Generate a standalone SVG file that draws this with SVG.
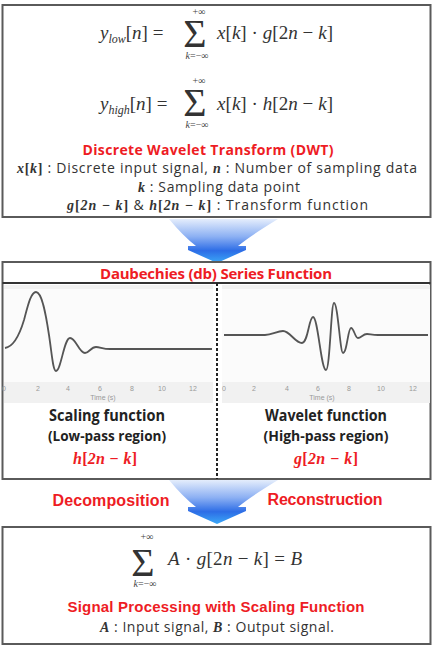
<svg xmlns="http://www.w3.org/2000/svg" width="434" height="649" viewBox="0 0 434 649">
<style>
.box{fill:#fff;stroke:#5a5a5a;stroke-width:2}
.m{font-family:"Liberation Serif","DejaVu Serif",serif;font-size:19px;fill:#333}
.i{font-style:italic}
.sm{font-family:"Liberation Serif","DejaVu Serif",serif;font-size:10px;fill:#444}
.sig{font-family:"Liberation Serif","DejaVu Serif",serif;font-size:40px;fill:#333}
.red{font-family:"Open Sans","Noto Sans",sans-serif;font-weight:bold;fill:#ee1c24}
.redA{font-family:"Liberation Sans",Arial,sans-serif;font-weight:bold;fill:#ee1c24}
.t{font-family:"Open Sans","Noto Sans",sans-serif;font-size:14px;fill:#333}
.mb{font-family:"Liberation Serif","DejaVu Serif",serif;font-weight:bold;font-style:italic}
.up{font-style:normal}
.lab{font-family:"Open Sans","Noto Sans",sans-serif;font-weight:bold;fill:#222}
.tick{font-family:"Liberation Sans",Arial,sans-serif;font-size:7px;fill:#999;text-anchor:middle}
.curve{fill:none;stroke:#555;stroke-width:1.8;stroke-linejoin:round}
.mid{text-anchor:middle}
</style>
<defs>
<linearGradient id="ag" x1="0" y1="0" x2="0" y2="1">
<stop offset="0" stop-color="#e4edfc"/>
<stop offset="0.4" stop-color="#8cb0f3"/>
<stop offset="0.72" stop-color="#2d6de6"/>
<stop offset="1" stop-color="#3ba8f7"/>
</linearGradient>
<path id="arrowShape" d="M169,219 L278,219 Q250,236 238,246 L246,246 L246,250 L217,263 L188,250 L188,246 L196,246 Q183,236 169,219 Z"/>
</defs>
<rect width="434" height="649" fill="#fff"/>

<g id="connectors">
<use href="#arrowShape" fill="url(#ag)"/>
<use href="#arrowShape" fill="url(#ag)" transform="translate(0,261)"/>
<text class="redA mid" x="111" y="506" font-size="16" textLength="117">Decomposition</text>
<text class="redA mid" x="325" y="505" font-size="16" textLength="115">Reconstruction</text>
</g>

<g id="node-dwt">
<rect class="box" x="2.5" y="5" width="428" height="212"/>
<text class="m" x="100" y="39"><tspan class="i">y</tspan><tspan class="i" font-size="12" dy="4">low</tspan><tspan dy="-4">[</tspan><tspan class="i">n</tspan>] =</text>
<text class="sig mid" x="195" y="47">Σ</text>
<text class="sm mid" x="199" y="15">+∞</text>
<text class="sm mid" x="197" y="59"><tspan class="i">k</tspan>=−∞</text>
<text class="m" x="217" y="39" textLength="116"><tspan class="i">x</tspan>[<tspan class="i">k</tspan>] · <tspan class="i">g</tspan>[2<tspan class="i">n</tspan> − <tspan class="i">k</tspan>]</text>
<text class="m" x="100" y="110"><tspan class="i">y</tspan><tspan class="i" font-size="12" dy="4">high</tspan><tspan dy="-4">[</tspan><tspan class="i">n</tspan>] =</text>
<text class="sig mid" x="195" y="116">Σ</text>
<text class="sm mid" x="199" y="84">+∞</text>
<text class="sm mid" x="197" y="128"><tspan class="i">k</tspan>=−∞</text>
<text class="m" x="217" y="110" textLength="116"><tspan class="i">x</tspan>[<tspan class="i">k</tspan>] · <tspan class="i">h</tspan>[2<tspan class="i">n</tspan> − <tspan class="i">k</tspan>]</text>
<text class="red mid" x="208" y="155" font-size="14" textLength="251">Discrete Wavelet Transform (DWT)</text>
<text class="t" x="17" y="173" textLength="400"><tspan class="mb">x<tspan class="up">[</tspan>k<tspan class="up">]</tspan></tspan> : Discrete input signal,  <tspan class="mb">n</tspan> : Number of sampling data</text>
<text class="t" x="138" y="192" textLength="162"><tspan class="mb">k</tspan> : Sampling data point</text>
<text class="t" x="67" y="210" textLength="301"><tspan class="mb">g<tspan class="up">[</tspan>2n − k<tspan class="up">]</tspan></tspan> &amp; <tspan class="mb">h<tspan class="up">[</tspan>2n − k<tspan class="up">]</tspan></tspan> : Transform function</text>
</g>

<g id="node-daubechies">
<rect class="box" x="2.5" y="262" width="428" height="217"/>
<line x1="2.5" y1="283" x2="430.5" y2="283" stroke="#333" stroke-width="2"/>
<text class="red mid" x="216" y="279" font-size="15" textLength="232">Daubechies (db) Series Function</text>
<line x1="217" y1="283" x2="217" y2="479" stroke="#222" stroke-width="2" stroke-dasharray="3,2"/>
<g id="plot-scaling">
<rect x="4" y="285" width="209" height="118" fill="#f1f1f1"/>
<rect x="4" y="289" width="209" height="93" fill="#fbfbfb"/>
<path class="curve" d="M5,348 C12,347 18,340 24,320 C28,305 31,292 36,292 C42,292 46,315 49,335 C52,355 53,371 56,371 C61,371 64,338 70,338 C76,338 79,353 85,353 C89,353 91,347 96,347 C100,347 103,349 110,349 L212,349"/>
<text class="tick" x="4" y="391">0</text><text class="tick" x="38" y="391">2</text><text class="tick" x="68" y="391">4</text><text class="tick" x="100" y="391">6</text><text class="tick" x="132" y="391">8</text><text class="tick" x="162" y="391">10</text><text class="tick" x="193" y="391">12</text>
<text class="tick" x="103" y="400" fill="#777">Time (s)</text>
</g>
<g id="plot-wavelet">
<rect x="222" y="285" width="208" height="118" fill="#f1f1f1"/>
<rect x="222" y="289" width="208" height="93" fill="#fbfbfb"/>
<path class="curve" d="M224,335 L265,335 C272,335 277,331 283,331 C290,331 295,343 302,343 C308,343 309,317 313,317 C318,317 321,370 326,370 C330,370 331,303 334,303 C338,303 340,353 343,353 C347,353 348,328 351,328 C354,328 355,338 358,338 C361,338 363,334 367,334 C370,334 372,335 378,335 L428,335"/>
<text class="tick" x="224" y="391">0</text><text class="tick" x="254" y="391">2</text><text class="tick" x="287" y="391">4</text><text class="tick" x="318" y="391">6</text><text class="tick" x="349" y="391">8</text><text class="tick" x="381" y="391">10</text><text class="tick" x="413" y="391">12</text>
<text class="tick" x="322" y="400" fill="#777">Time (s)</text>
</g>
<text class="lab mid" x="107" y="421" font-size="16" textLength="116" lengthAdjust="spacingAndGlyphs">Scaling function</text>
<text class="lab mid" x="107" y="441" font-size="14" textLength="118" lengthAdjust="spacingAndGlyphs">(Low-pass region)</text>
<text class="lab mid" x="326" y="421" font-size="16" textLength="122" lengthAdjust="spacingAndGlyphs">Wavelet function</text>
<text class="lab mid" x="326" y="441" font-size="14" textLength="125" lengthAdjust="spacingAndGlyphs">(High-pass region)</text>
<text class="mb mid" x="105" y="464" font-size="16" fill="#ee1c24" textLength="64">h<tspan class="up">[</tspan>2n − k<tspan class="up">]</tspan></text>
<text class="mb mid" x="326" y="464" font-size="16" fill="#ee1c24" textLength="64">g<tspan class="up">[</tspan>2n − k<tspan class="up">]</tspan></text>
</g>

<g id="node-signal">
<rect class="box" x="2.5" y="527" width="428" height="117"/>
<text class="sig mid" x="143" y="576">Σ</text>
<text class="sm mid" x="147" y="540">+∞</text>
<text class="sm mid" x="145" y="587"><tspan class="i">k</tspan>=−∞</text>
<text class="m" x="168" y="565" textLength="134"><tspan class="i">A</tspan>  · <tspan class="i">g</tspan>[2<tspan class="i">n</tspan> − <tspan class="i">k</tspan>] = <tspan class="i">B</tspan></text>
<text class="redA mid" x="216" y="612" font-size="15" textLength="297">Signal Processing with Scaling Function</text>
<text class="t mid" x="217" y="632" textLength="234"><tspan class="mb">A</tspan> : Input signal, <tspan class="mb">B</tspan> : Output signal.</text>
</g>
</svg>
